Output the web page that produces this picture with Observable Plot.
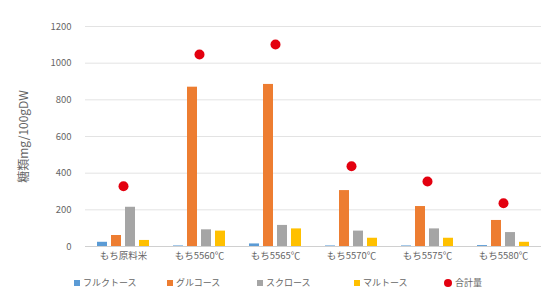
<!DOCTYPE html>
<html><head><meta charset="utf-8">
<script src="https://cdn.jsdelivr.net/npm/d3@7"></script>
<script src="https://cdn.jsdelivr.net/npm/@observablehq/plot@0.6"></script>
<style>
body{margin:0;background:#fff;font-family:"Noto Sans CJK JP",sans-serif;}
#wrap{width:558px;height:294px;position:relative;overflow:hidden;}
#legend{position:absolute;left:74px;top:276px;display:flex;font-size:9px;color:#666;white-space:nowrap;}
#legend .it{display:flex;align-items:center;}
#legend .sw{width:6px;height:6px;margin-right:3px;}
</style></head>
<body><div id="wrap"><div id="chart"></div><div id="legend"></div></div>
<script>
const categories = ["もち原料米","もち5560℃","もち5565℃","もち5570℃","もち5575℃","もち5580℃"];
const seriesNames = ["フルクトース","グルコース","スクロース","マルトース"];
const fructose = [23, 3, 14, 3, 3, 5];
const glucose = [60, 869, 884, 305, 218, 142];
const sucrose = [214, 91, 115, 84, 96, 76];
const maltose = [33, 84, 96, 45, 45, 23];
const totalName = "合計量";
const total = [329, 1047, 1102, 438, 355, 236];
const yTicks = [0, 200, 400, 600, 800, 1000, 1200];
const yTitle = "糖類mg/100gDW";
const colors = ["#5b9bd5", "#ed7d31", "#a5a5a5", "#ffc000"];
const dotColor = "#e3000f";

const seriesValues = [fructose, glucose, sucrose, maltose];
const bars = [];
categories.forEach((c, i) => seriesNames.forEach((s, j) => bars.push({cat: c, series: s, value: seriesValues[j][i]})));
const dots = categories.map((c, i) => ({cat: c, value: total[i]}));

const chart = Plot.plot({
  width: 558, height: 270,
  marginTop: 26, marginBottom: 24, marginLeft: 83, marginRight: 16,
  style: {fontFamily: '"Noto Sans CJK JP", sans-serif', fontSize: "9.5px", color: "#666"},
  fx: {domain: categories, paddingInner: 0, paddingOuter: 0, axis: "bottom", tickSize: 0, tickPadding: 6, label: null},
  x: {domain: seriesNames, paddingInner: 0.3, paddingOuter: 0.79, axis: null},
  y: {domain: [0, 1200], ticks: yTicks, tickFormat: d3.format("d"), tickSize: 0, tickPadding: 14, label: yTitle, labelAnchor: "center", labelOffset: 66},
  color: {domain: seriesNames, range: colors},
  marks: [
    Plot.ruleY(yTicks.slice(1), {stroke: "#e3e3e3"}),
    Plot.ruleY([0], {stroke: "#d0d0d0"}),
    Plot.barY(bars, {fx: "cat", x: "series", y: "value", fill: "series"}),
    Plot.dot(dots, {fx: "cat", y: "value", r: 5, fill: dotColor})
  ]
});
document.getElementById("chart").appendChild(chart);
// style y-axis title (drop the arrow)
chart.querySelectorAll("text").forEach(t => {
  if (t.textContent.includes(yTitle)) { t.textContent = yTitle; t.style.fontSize = "12px"; }
});

const legend = document.getElementById("legend");
const widths = [93, 90, 97, 90, 80];
seriesNames.concat([totalName]).forEach((s, i) => {
  const it = document.createElement("div"); it.className = "it"; it.style.width = widths[i] + "px";
  const sw = document.createElement("span"); sw.className = "sw";
  if (i < 4) { sw.style.background = colors[i]; }
  else { sw.style.background = dotColor; sw.style.borderRadius = "50%"; sw.style.width = "8px"; sw.style.height = "8px"; }
  it.appendChild(sw);
  const tx = document.createElement("span"); tx.textContent = s; it.appendChild(tx);
  legend.appendChild(it);
});
</script></body></html>
